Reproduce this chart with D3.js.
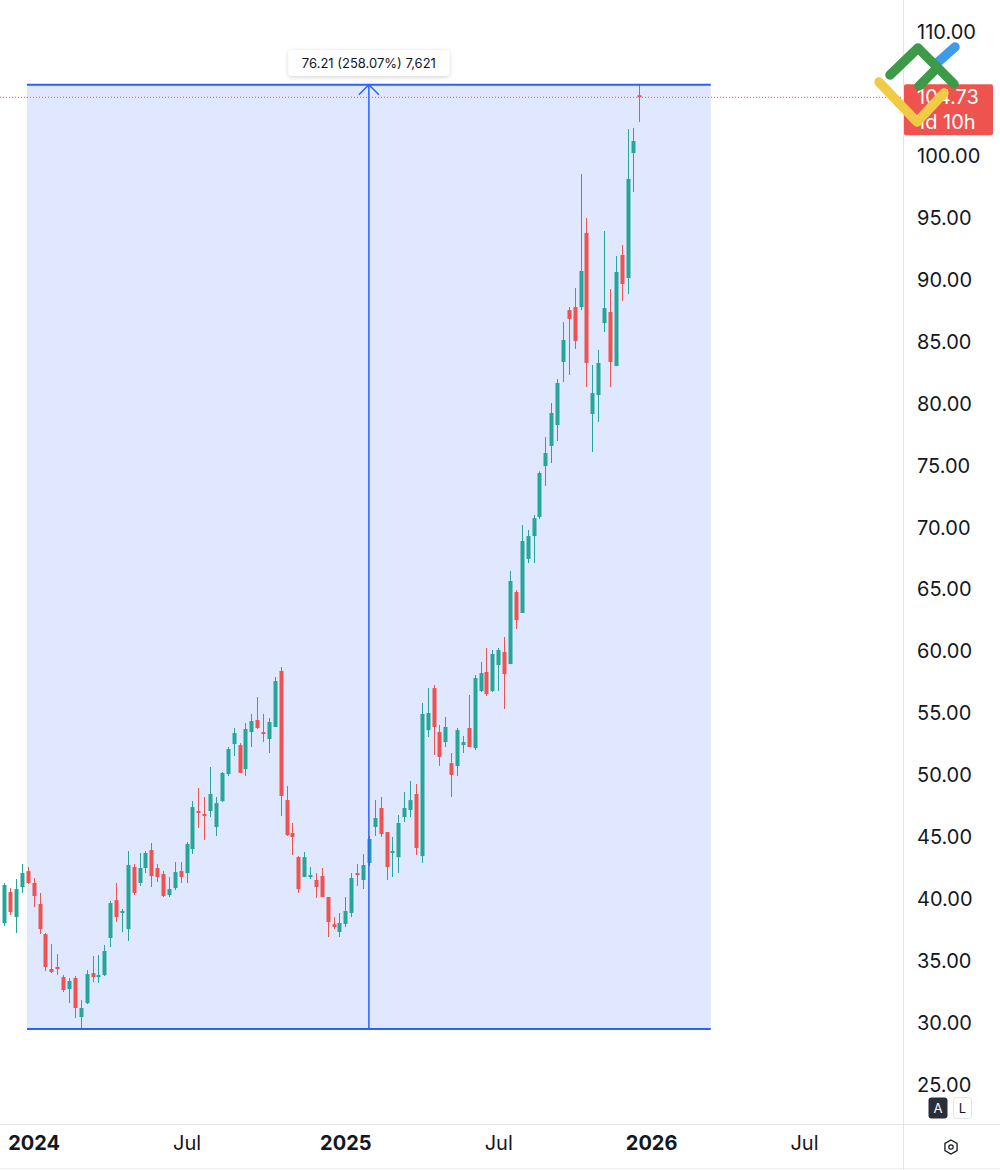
<!DOCTYPE html>
<html>
<head>
<meta charset="utf-8">
<script src="https://cdn.jsdelivr.net/npm/d3@7"></script>
<style>
body { margin:0; background:#fff; font-family: Inter, "Noto Sans", sans-serif; }
</style>
</head>
<body>
<div id="chart"></div>
<script>
// weekly candles, first bar = week of 27 Nov 2023
var open = [38.09,40.59,38.57,40.99,42.28,41.32,39.62,37.20,34.38,34.54,33.73,32.76,33.65,30.50,31.63,34.05,33.73,33.89,36.88,39.94,38.90,37.60,42.61,41.32,42.53,43.98,42.53,42.04,40.35,40.91,42.28,42.12,
44.06,47.13,46.89,47.13,45.84,47.93,50.11,52.53,52.45,50.52,53.50,54.47,53.50,52.94,53.91,58.43,48.01,45.35,43.41,41.80,41.80,41.56,41.88,40.19,37.99,37.36,38.01,38.90,42.12,41.56,42.93,45.84,47.37,45.43,43.74,43.41,46.64,47.21,48.50,43.49,53.66,57.05,53.50,52.69,50.99,50.76,52.45,53.83,52.21,56.81,58.35,56.81,58.91,59.96,58.99,64.80,63.11,67.47,69.32,70.86,74.97,76.59,78.28,83.37,87.56,87.80,87.80,93.78,79.17,80.70,86.51,87.40,83.04,92.00,90.15,100.23,104.90];
var high = [41.32,40.91,41.64,42.85,42.61,41.72,40.51,37.28,36.39,35.59,33.89,33.65,33.81,31.87,34.29,35.42,35.50,36.31,39.86,41.32,39.22,43.90,42.85,43.74,43.90,44.55,42.85,42.28,41.80,43.01,43.01,44.62,
47.93,48.98,48.26,50.68,48.26,50.28,52.29,53.83,52.61,54.23,54.96,56.33,54.96,54.63,57.94,58.75,49.14,46.16,43.49,43.82,42.61,42.12,42.53,40.19,38.57,38.90,40.19,42.12,42.85,43.66,45.11,48.01,48.26,45.43,45.03,46.80,48.66,49.55,49.30,55.84,57.05,57.30,54.07,54.71,51.81,53.83,53.18,56.49,58.10,59.15,60.28,60.12,60.28,61.17,66.50,64.96,70.21,69.81,71.02,74.55,77.31,80.06,81.99,86.59,87.80,89.34,98.54,94.99,83.12,84.33,93.94,89.26,91.92,92.81,102.17,102.25,105.74];
var low = [37.85,38.73,37.28,40.51,41.24,39.38,37.20,34.21,34.05,33.89,32.52,31.63,30.42,29.54,31.55,33.32,33.24,33.81,36.15,38.17,37.36,36.64,40.35,41.08,42.12,40.99,41.40,40.19,40.19,40.75,41.32,41.32,
43.66,45.76,44.79,46.64,45.11,47.85,49.95,51.57,50.20,49.95,52.29,53.75,52.70,51.81,53.91,46.72,45.11,43.58,40.51,41.80,41.64,40.11,40.19,36.96,37.60,36.96,37.76,38.57,41.08,40.83,42.69,45.11,45.03,41.56,41.80,42.12,46.24,46.64,43.58,42.93,53.10,51.65,50.76,52.29,48.26,49.95,51.81,52.29,52.05,56.73,56.41,56.73,56.81,55.36,58.99,61.82,63.11,67.14,67.14,70.70,73.36,75.21,76.99,81.75,82.32,84.42,87.56,81.35,76.10,78.52,85.79,81.35,83.04,88.29,88.85,97.09,102.74];
var close = [41.16,38.98,40.83,42.12,41.32,40.27,37.60,34.54,34.13,34.38,32.68,33.41,31.23,31.23,33.97,33.73,33.89,35.83,39.70,38.57,39.06,42.77,40.51,42.53,43.74,41.88,41.80,40.27,40.83,42.20,41.80,44.46,
47.45,46.97,46.72,48.50,47.77,50.20,52.13,53.42,50.20,53.75,54.39,53.83,53.34,54.31,57.62,48.34,45.19,45.03,40.83,43.41,41.96,40.99,40.19,38.17,37.77,38.09,39.06,41.72,41.96,42.77,44.87,46.56,45.27,42.61,43.90,46.16,47.37,48.01,44.14,54.96,55.04,53.91,51.49,53.91,50.03,53.66,52.69,52.29,57.86,58.26,56.57,59.80,60.12,58.18,65.69,62.54,68.92,69.32,70.77,74.41,76.02,79.25,81.67,85.14,86.84,85.06,90.71,83.29,80.86,83.29,87.72,83.37,90.63,89.66,98.14,101.20,104.73];

var firstWeek = new Date(2023, 10, 27);
var weeks = d3.timeMonday.range(firstWeek, new Date(2025, 11, 23));

// 105.00 sits under the last price tag, so it is not shown
var yTicks = [25,30,35,40,45,50,55,60,65,70,75,80,85,90,95,100,110];
var xTickDates = [new Date(2024,0,1), new Date(2024,6,1), new Date(2025,0,6), new Date(2025,6,7), new Date(2026,0,5), new Date(2026,6,6)];
var xTickLabels = ["2024","Jul","2025","Jul","2026","Jul"];

var lastPrice = 104.73;
var countdown = "1d 10h";
var measureFrom = new Date(2023, 11, 24), measureTo = new Date(2026, 2, 17);
var measureLow = 29.54, measureHigh = 105.74;
var measureLabel = "76.21 (258.07%) 7,621";

var w = 1000, h = 1170;
var plotW = 903, plotH = 1124;
var up = "#26a69a", down = "#ef5350", blue = "#2962ff";

var candles = weeks.map(function(d, i) {
	return {date: d, o: open[i], h: high[i], l: low[i], c: close[i]};
});

var x = d3.scaleTime()
	.domain([firstWeek, new Date(2026, 6, 6)])
	.range([4.3, 804]);

var y = d3.scaleLinear()
	.domain([25, 110])
	.range([1085.2, 32]);

var svg = d3.select("#chart")
	.append("svg")
	.attr("width", w)
	.attr("height", h)
	.style("display", "block")
	.style("background", "#FFFFFF");

var defs = svg.append("defs");
defs.append("clipPath").attr("id", "plot")
	.append("rect").attr("width", plotW).attr("height", plotH);
var shadow = defs.append("filter").attr("id", "shadow")
	.attr("x", "-20%").attr("y", "-50%").attr("width", "140%").attr("height", "200%");
shadow.append("feDropShadow").attr("dx", 0).attr("dy", 1).attr("stdDeviation", 2)
	.attr("flood-color", "#000").attr("flood-opacity", 0.18);

var plot = svg.append("g").attr("clip-path", "url(#plot)");

// measure box
var mx0 = x(measureFrom), mx1 = x(measureTo), mxm = (mx0 + mx1) / 2;
var myTop = y(measureHigh), myBot = y(measureLow);
plot.append("rect")
	.attr("x", mx0).attr("y", myTop)
	.attr("width", mx1 - mx0).attr("height", myBot - myTop)
	.style("fill", "rgba(41,98,255,0.15)");

// candles
var c = plot.selectAll("g.candle")
	.data(candles)
	.enter()
	.append("g")
	.attr("class", "candle");

c.append("line")
	.attr("x1", function(d){return Math.round(x(d.date)) + 0.5})
	.attr("x2", function(d){return Math.round(x(d.date)) + 0.5})
	.attr("y1", function(d){return y(d.h)})
	.attr("y2", function(d){return y(d.l)})
	.style("stroke", function(d){return d.c >= d.o ? up : down})
	.style("stroke-width", 1);

c.append("rect")
	.attr("x", function(d){return Math.round(x(d.date)) - 1.5})
	.attr("width", 4)
	.attr("y", function(d){return y(Math.max(d.o, d.c))})
	.attr("height", function(d){return Math.max(1.5, Math.abs(y(d.o) - y(d.c)))})
	.style("fill", function(d){return d.c >= d.o ? up : down});

// measure lines
plot.append("line").attr("x1", mx0).attr("x2", mx1).attr("y1", myTop).attr("y2", myTop)
	.style("stroke", blue).style("stroke-width", 2);
plot.append("line").attr("x1", mx0).attr("x2", mx1).attr("y1", myBot).attr("y2", myBot)
	.style("stroke", blue).style("stroke-width", 2);
plot.append("line").attr("x1", mxm).attr("x2", mxm).attr("y1", myTop).attr("y2", myBot)
	.style("stroke", blue).style("stroke-width", 1.5);
plot.append("path")
	.attr("d", "M" + (mxm - 10) + "," + (myTop + 10) + "L" + mxm + "," + myTop + "L" + (mxm + 10) + "," + (myTop + 10))
	.style("fill", "none").style("stroke", blue).style("stroke-width", 1.5);

// last price line
plot.append("line")
	.attr("x1", 0).attr("x2", plotW)
	.attr("y1", y(lastPrice)).attr("y2", y(lastPrice))
	.style("stroke", down).style("stroke-width", 1)
	.style("stroke-dasharray", "1,2");

// measure label
var lab = svg.append("g").attr("transform", "translate(" + mxm + ",63)");
lab.append("rect")
	.attr("x", -80.5).attr("y", -13).attr("width", 161).attr("height", 26).attr("rx", 4)
	.style("fill", "#fff").attr("filter", "url(#shadow)");
lab.append("text")
	.attr("text-anchor", "middle").attr("dy", "0.35em")
	.style("font-size", "13px").style("fill", "#131722")
	.text(measureLabel);

// separators
svg.append("line").attr("x1", plotW + 0.5).attr("x2", plotW + 0.5).attr("y1", 0).attr("y2", h)
	.style("stroke", "#e0e3eb");
svg.append("line").attr("x1", 0).attr("x2", w).attr("y1", plotH + 0.5).attr("y2", plotH + 0.5)
	.style("stroke", "#e0e3eb");
svg.append("line").attr("x1", 0).attr("x2", w).attr("y1", h - 1.5).attr("y2", h - 1.5)
	.style("stroke", "#eceef2");

// y axis
var yAxis = svg.append("g")
	.attr("transform", "translate(917,0)")
	.call(d3.axisRight(y).tickValues(yTicks).tickFormat(d3.format(".2f")).tickSize(0).tickPadding(0));
yAxis.select(".domain").remove();
yAxis.selectAll("text")
	.style("font-family", "Inter, 'Noto Sans', sans-serif")
	.style("font-size", "20px")
	.style("fill", "#131722");

// x axis
var xAxis = svg.append("g")
	.attr("transform", "translate(0,1136)")
	.call(d3.axisBottom(x).tickValues(xTickDates).tickFormat(function(d, i){return xTickLabels[i]}).tickSize(0).tickPadding(0));
xAxis.select(".domain").remove();
xAxis.selectAll("text")
	.style("font-family", "Inter, 'Noto Sans', sans-serif")
	.style("font-size", "20px")
	.style("fill", "#131722")
	.style("font-weight", function(d, i){return xTickLabels[i] == "Jul" ? 400 : 700});

// last price tag
var tag = svg.append("g");
tag.append("rect")
	.attr("x", 904).attr("y", y(lastPrice) - 13).attr("width", 89).attr("height", 51).attr("rx", 2)
	.style("fill", down);
tag.append("text")
	.attr("x", 917).attr("y", y(lastPrice)).attr("dy", "0.35em")
	.style("font-size", "20px").style("fill", "#fff")
	.text(d3.format(".2f")(lastPrice));
tag.append("text")
	.attr("x", 917).attr("y", y(lastPrice) + 25).attr("dy", "0.35em")
	.style("font-size", "20px").style("fill", "#fff")
	.text(countdown);

// A / L buttons
svg.append("rect").attr("x", 928.5).attr("y", 1097.5).attr("width", 19).attr("height", 21).attr("rx", 3)
	.style("fill", "#2a2e39");
svg.append("text").attr("x", 938).attr("y", 1108).attr("dy", "0.35em").attr("text-anchor", "middle")
	.style("font-size", "13px").style("fill", "#fff").text("A");
svg.append("rect").attr("x", 953.5).attr("y", 1097.5).attr("width", 18).attr("height", 21).attr("rx", 3)
	.style("fill", "#fff").style("stroke", "#e0e3eb");
svg.append("text").attr("x", 962.5).attr("y", 1108).attr("dy", "0.35em").attr("text-anchor", "middle")
	.style("font-size", "13px").style("fill", "#131722").text("L");

// settings icon
var hex = d3.range(6).map(function(i){
	var a = Math.PI / 3 * i;
	return [951 + 7 * Math.sin(a), 1147 - 7 * Math.cos(a)];
});
svg.append("path").attr("d", d3.line()(hex) + "Z")
	.style("fill", "none").style("stroke", "#131722").style("stroke-width", 1.3);
svg.append("circle").attr("cx", 951).attr("cy", 1147).attr("r", 2.2)
	.style("fill", "none").style("stroke", "#131722").style("stroke-width", 1.2);

// watermark logo
var logo = svg.append("g")
	.style("fill", "none").style("stroke-linecap", "round").style("stroke-linejoin", "round")
	.style("stroke-width", 9.5);
logo.append("path").attr("d", "M937,63L955,47").style("stroke", "#3d9be9");
logo.append("path").attr("d", "M890,75L918,48L954,84M919,86L937,68").style("stroke", "#3c9a48");
logo.append("path").attr("d", "M879,82L917,122L944,93").style("stroke", "#f1cb46");
</script>
</body>
</html>
